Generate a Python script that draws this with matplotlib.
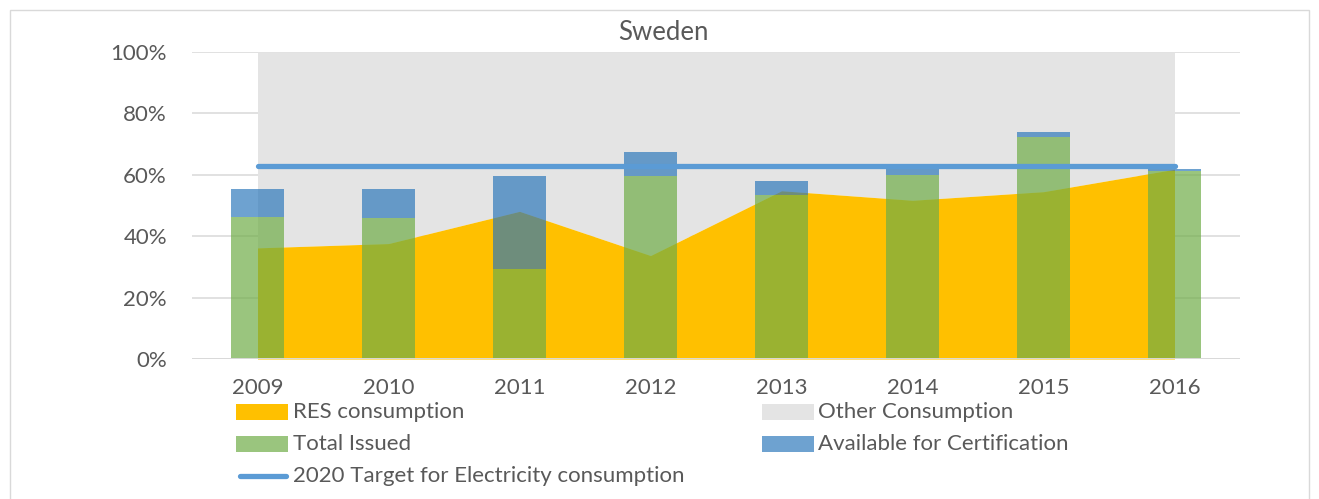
import numpy as np
import matplotlib
matplotlib.use("Agg")
from matplotlib import pyplot as plt
from matplotlib.patches import Rectangle
from matplotlib.lines import Line2D
from matplotlib.ticker import PercentFormatter

plt.rcParams['font.family'] = ['Lato', 'DejaVu Sans']

years = ['2009', '2010', '2011', '2012', '2013', '2014', '2015', '2016']
res_consumption = [36.2, 37.6, 48.1, 33.7, 54.8, 51.7, 54.5, 61.8]
total_issued = [46.2, 45.8, 29.2, 59.5, 53.3, 60.0, 72.4, 61.1]
available_cert = [9.2, 9.6, 30.3, 7.8, 4.6, 1.9, 1.4, 0.8]
target_2020 = 62.9

W, H = 1319, 499
c_res = '#FFC000'
c_other = '#E4E4E4'
c_issued = '#70AD47'
c_avail = '#2774BA'
c_target = '#5B9BD5'
c_text = '#595959'
c_grid = '#D9D9D9'

fig = plt.figure(figsize=(W / 100, H / 100), dpi=100)
ax = fig.add_axes([192 / W, 1 - 359 / H, (1240 - 192) / W, (359 - 52) / H])

x = np.arange(len(years))
res = np.array(res_consumption)

# areas
ax.fill_between(x, res, 100, color=c_other, lw=0, zorder=1)
ax.fill_between(x, 0, res, color=c_res, lw=0, zorder=2)

# bars
ax.bar(x, total_issued, width=0.4, color=c_issued, alpha=0.7, lw=0, zorder=3)
ax.bar(x, available_cert, width=0.4, bottom=total_issued, color=c_avail,
       alpha=0.67, lw=0, zorder=3)

# target line
ax.plot(x, [target_2020] * len(x), color=c_target, lw=3.8,
        solid_capstyle='round', zorder=4)

ax.set_xlim(-0.5, len(years) - 0.5)
ax.set_ylim(0, 100)
ax.set_yticks(range(0, 101, 20))
ax.yaxis.set_major_formatter(PercentFormatter(decimals=0))
ax.set_xticks(x, years)
ax.tick_params(length=0, labelsize=16, colors=c_text)
ax.tick_params(axis='y', pad=18)
ax.tick_params(axis='x', pad=14)
ax.grid(axis='y', color=c_grid, lw=1.1, zorder=0)
ax.set_axisbelow(True)
ax.axhline(0, color=c_grid, lw=1.4, zorder=5)
for s in ax.spines.values():
    s.set_visible(False)

fig.text(663 / W, 1 - 32 / H, 'Sweden', ha='center', va='center',
         size=18.5, color=c_text)

# legend drawn by hand
def swatch(px, py, color, alpha=1.0):
    fig.add_artist(Rectangle((px / W, 1 - (py + 8) / H), 52 / W, 16 / H,
                             transform=fig.transFigure, color=color,
                             alpha=alpha, lw=0))

swatch(236, 412, c_res)
swatch(762, 412, c_other)
swatch(236, 444, c_issued, 0.7)
swatch(762, 444, c_avail, 0.67)
fig.add_artist(Line2D([240 / W, 286 / W], [1 - 476 / H] * 2, color=c_target,
                      lw=3.8, solid_capstyle='round', transform=fig.transFigure))

labels = [(293, 412, 'RES consumption'), (818, 412, 'Other Consumption'),
          (293, 444, 'Total Issued'), (818, 444, 'Available for Certification'),
          (293, 476, '2020 Target for Electricity consumption')]
for px, py, t in labels:
    fig.text(px / W, 1 - py / H, t, ha='left', va='center', size=16, color=c_text)

# chart border
fig.add_artist(Rectangle((10 / W, -0.01), 1299 / W, 1 - 10 / H + 0.01,
                         transform=fig.transFigure, fill=False,
                         edgecolor=c_grid, lw=1))

fig.savefig('out.png', dpi=100)
